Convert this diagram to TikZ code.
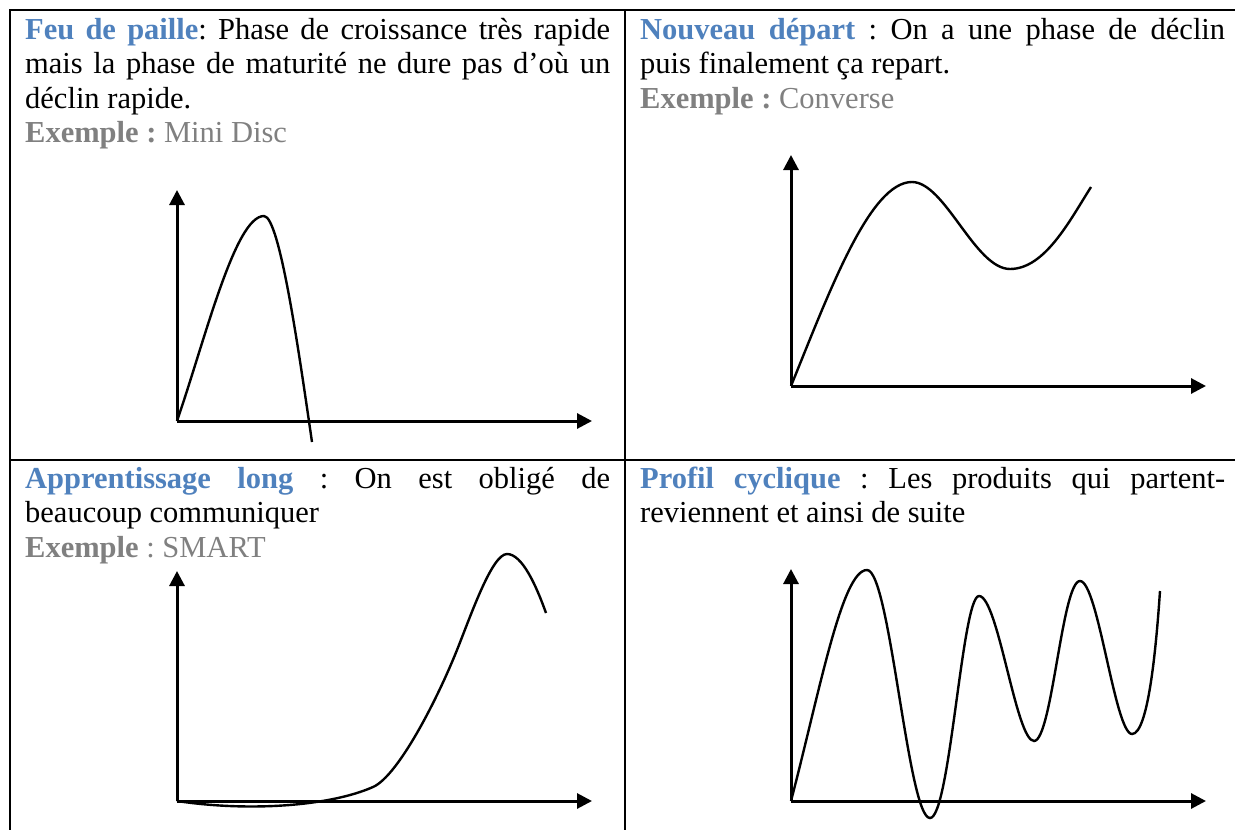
\documentclass[tikz,border=0pt]{standalone}
\usepackage{fontspec}
\setmainfont{Liberation Serif}
\usetikzlibrary{arrows.meta}
\definecolor{titleblue}{HTML}{4F81BD}
\definecolor{examplegray}{HTML}{808080}
\newcommand{\cellfont}{\frenchspacing\fontsize{30.5}{34.5}\selectfont}

\tikzset{
  cellrule/.style={line width=2.4pt},
  celltext/.style={anchor=base west, inner sep=0pt, text width=585pt, align=justify, font=\cellfont},
  axis/.style={line width=3pt, -{Triangle[length=15pt,width=15pt]}},
  curve/.style={line width=2.4pt}
}

\begin{document}
\begin{tikzpicture}[x=1pt, y=-1pt]
  \useasboundingbox (0,0) rectangle (1235,830);

  % table
  \draw[cellrule] (10,10) rectangle (1245,850);
  \draw[cellrule] (625,10) -- (625,850);
  \draw[cellrule] (10,460) -- (1245,460);

  % texts
  \node[celltext] (t1) at (25,39) {\textcolor{titleblue}{\textbf{Feu de paille}}: Phase de croissance très rapide\linebreak mais la phase de maturité ne dure pas d’où un\linebreak déclin rapide.\par
    \textcolor{examplegray}{\textbf{Exemple :} Mini Disc}};
  \node[celltext] (t2) at (640,39) {\textcolor{titleblue}{\textbf{Nouveau départ}} : On a une phase de déclin\linebreak puis finalement ça repart.\par
    \textcolor{examplegray}{\textbf{Exemple :} Converse}};
  \node[celltext] (t3) at (25,488) {\textcolor{titleblue}{\textbf{Apprentissage long}} : On est obligé de\linebreak beaucoup communiquer\par
    \textcolor{examplegray}{\textbf{Exemple} : SMART}};
  \node[celltext] (t4) at (640,488) {\textcolor{titleblue}{\textbf{Profil cyclique}} : Les produits qui partent-\linebreak reviennent et ainsi de suite};

  % feu de paille
  \coordinate (o1) at (177,421);
  \coordinate (y1) at (177,190);
  \coordinate (x1) at (592,421);
  \draw[axis] (o1) -- (y1);
  \draw[axis] (o1) -- (x1);
  \draw[curve] (o1) .. controls (205,340) and (235,216) .. (264,216)
    .. controls (280,216) and (300,360) .. (312,442);

  % nouveau depart
  \coordinate (o2) at (791,386);
  \coordinate (y2) at (791,155);
  \coordinate (x2) at (1206,386);
  \draw[axis] (o2) -- (y2);
  \draw[axis] (o2) -- (x2);
  \draw[curve] (o2) .. controls (830,290) and (870,182) .. (912,182)
    .. controls (945,182) and (975,269) .. (1010,269)
    .. controls (1045,269) and (1070,220) .. (1091,187);

  % apprentissage long
  \coordinate (o3) at (177,801);
  \coordinate (y3) at (177,571);
  \coordinate (x3) at (592,801);
  \draw[axis] (o3) -- (y3);
  \draw[axis] (o3) -- (x3);
  \draw[curve] (o3) .. controls (250,812) and (330,806) .. (373,787)
    .. controls (398,776) and (437,700) .. (457,650)
    .. controls (471,615) and (492,554) .. (507,554)
    .. controls (522,554) and (536,585) .. (546,613);

  % profil cyclique
  \coordinate (o4) at (791,801);
  \coordinate (y4) at (791,569);
  \coordinate (x4) at (1206,801);
  \draw[axis] (o4) -- (y4);
  \draw[axis] (o4) -- (x4);
  \draw[curve] (o4) .. controls (820,690) and (842,570) .. (867,570)
    .. controls (890,570) and (908,818) .. (930,818)
    .. controls (950,818) and (962,596) .. (979,596)
    .. controls (998,596) and (1016,741) .. (1034,741)
    .. controls (1052,741) and (1062,581) .. (1080,581)
    .. controls (1098,581) and (1115,734) .. (1132,734)
    .. controls (1148,734) and (1156,650) .. (1160,591);
\end{tikzpicture}
\end{document}
